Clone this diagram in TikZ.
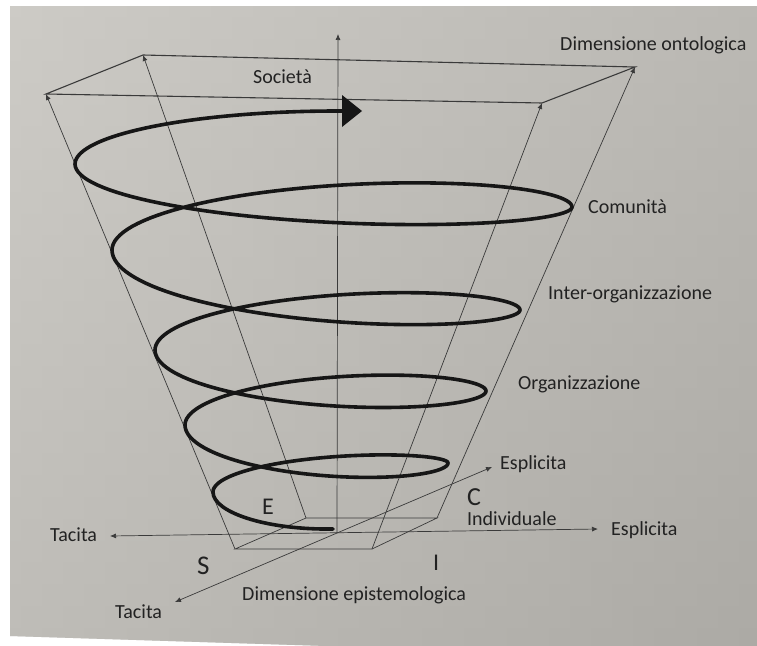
\documentclass[tikz,border=0pt]{standalone}
\usepackage{fontspec}
\setmainfont{Carlito}
\usetikzlibrary{arrows.meta}
\definecolor{paperTop}{HTML}{CDCBC6}
\definecolor{paperBot}{HTML}{AFADA8}
\definecolor{paperLeft}{HTML}{CDCBC6}
\definecolor{paperRight}{HTML}{A9A7A2}
\definecolor{ink}{HTML}{161616}
\definecolor{rule}{HTML}{3A3A3A}
\definecolor{txt}{HTML}{222222}
\begin{document}
\begin{tikzpicture}[x=1pt,y=-1pt,
  thinline/.style={draw=rule, line width=0.7pt},
  axisarrow/.style={thinline, -{Latex[length=6pt,width=5pt]}},
  twoway/.style={thinline, {Latex[length=6pt,width=5pt]}-{Latex[length=6pt,width=5pt]}},
  topframe/.style={draw=rule, line width=1.1pt, line join=miter},
  spiral/.style={draw=ink, line width=3.6pt, line cap=round, line join=round},
  lbl/.style={inner sep=0pt, text=txt, font=\fontsize{20}{24}\selectfont},
  mode/.style={inner sep=0pt, text=txt}]
\useasboundingbox (0,0) rectangle (757,645);
% paper sheet, running off the right and bottom edges
\fill[white] (0,0) rectangle (757,645);
\shade[top color=paperTop, bottom color=paperBot]
  (10,6) -- (770,6) -- (770,660) -- (10,636) -- cycle;
\shade[left color=paperLeft, right color=paperRight, opacity=0.5]
  (10,6) -- (770,6) -- (770,660) -- (10,636) -- cycle;

% axes
\coordinate (O) at (337,533);
\coordinate (vtop) at (338,34);
\coordinate (hL) at (110,536);
\coordinate (hR) at (598,529);
\coordinate (dL) at (175,602);
\coordinate (dR) at (492,467);

% base square and top square of the frustum
\coordinate (bFL) at (235,549);
\coordinate (bFR) at (372,549);
\coordinate (bBR) at (437,518);
\coordinate (bBL) at (306,518);
\coordinate (tFL) at (46,94);
\coordinate (tBL) at (143,55);
\coordinate (tBR) at (635,67);
\coordinate (tFR) at (542,103);

\draw[thinline] (bFL) -- (bFR) -- (bBR) -- (bBL) -- cycle;
\draw[twoway] (hL) -- (hR);
\draw[twoway] (dL) -- (dR);
\draw[axisarrow] (O) -- (vtop);
\draw[axisarrow] (bFL) -- (tFL);
\draw[axisarrow] (bBL) -- (tBL);
\draw[axisarrow] (bBR) -- (tBR);
\draw[axisarrow] (bFR) -- (tFR);
\draw[topframe] (tFL) -- (tFR) -- (tBR) -- (tBL) -- cycle;

% knowledge spiral
\draw[spiral] (333,529) .. controls (265,530) and (213,512) .. (213,492)
  \foreach \xa/\ya/\xb/\yb/\c in {213/492/448/463/-20.5, 448/463/185/425/31,
      185/425/486/391/-31, 486/391/155/350/34.5, 155/350/520/310/-35,
      520/310/112/250/40, 112/250/572/207/-43.5, 572/207/75/164/36.5}
  { -- plot[domain=0:1, samples=60, variable=\t]
      ({\xa+(\xb-\xa)*(1-cos(180*\t))/2}, {\ya+(\yb-\ya)*\t+\c*sin(180*\t)}) }
  .. controls (75,135) and (193,111) .. (338,111) -- (344,111);
\fill[ink] (342,95) -- (362,111) -- (342,127) -- cycle;

% labels
\node[lbl, anchor=base west] (ont) at (560,50) {Dimensione ontologica};
\node[lbl, anchor=base west] (soc) at (253,83) {Società};
\node[lbl, anchor=base west] (com) at (588,213) {Comunità};
\node[lbl, anchor=base west] (inter) at (548,299) {Inter-organizzazione};
\node[lbl, anchor=base west] (org) at (518,389) {Organizzazione};
\node[lbl, anchor=base west] (espD) at (500,469) {Esplicita};
\node[lbl, anchor=base west] (ind) at (467,525) {Individuale};
\node[lbl, anchor=base west] (espH) at (611,535) {Esplicita};
\node[lbl, anchor=base west] (tacH) at (50,541) {Tacita};
\node[lbl, anchor=base west] (tacD) at (115,618) {Tacita};
\node[lbl, anchor=base west] (epi) at (242,600) {Dimensione epistemologica};
\node[mode, anchor=base west, font=\fontsize{26}{30}\selectfont] (mC) at (467,505) {C};
\node[mode, anchor=base west, font=\fontsize{24}{28}\selectfont] (mE) at (262,514) {E};
\node[mode, anchor=base west, font=\fontsize{27}{30}\selectfont] (mS) at (197,574) {S};
\node[mode, anchor=base west, font=\fontsize{24}{28}\selectfont] (mI) at (433,570) {I};
\end{tikzpicture}
\end{document}
